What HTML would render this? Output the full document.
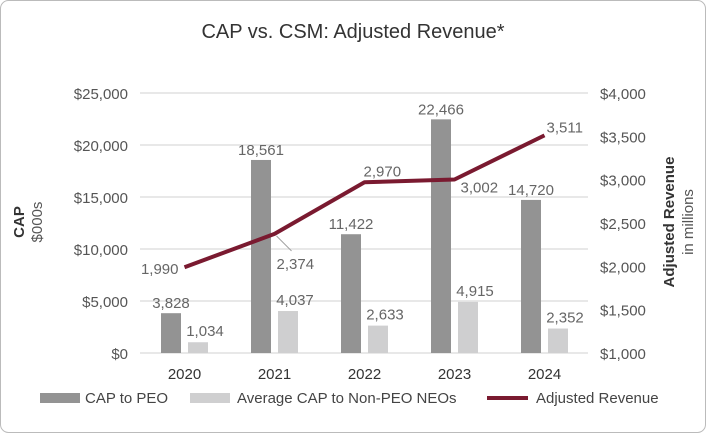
<!DOCTYPE html>
<html><head><meta charset="utf-8"><style>
body{margin:0;background:#fff;font-family:"Liberation Sans",sans-serif}
svg text{font-family:"Liberation Sans",sans-serif}
</style></head><body>
<svg id="chart" width="706" height="433" viewBox="0 0 706 433" xmlns="http://www.w3.org/2000/svg">
<rect x="0.5" y="0.5" width="705" height="432" rx="8" fill="#fff" stroke="#bbb"/>
<text x="353" y="38" text-anchor="middle" font-size="20" fill="#333">CAP vs. CSM: Adjusted Revenue*</text>
<g id="grid"></g><g id="bars"></g><g id="line"></g><g id="labels"></g>
<text transform="translate(24,222) rotate(-90)" text-anchor="middle" font-size="15" fill="#333"><tspan font-weight="bold">CAP</tspan></text>
<text transform="translate(42,222) rotate(-90)" text-anchor="middle" font-size="15" fill="#555">$000s</text>
<text transform="translate(674,222) rotate(-90)" text-anchor="middle" font-size="15" fill="#333"><tspan font-weight="bold">Adjusted Revenue</tspan></text>
<text transform="translate(693,222) rotate(-90)" text-anchor="middle" font-size="15" fill="#555">in millions</text>
<g>
<rect x="40" y="393" width="40" height="10" fill="#939393"/>
<text x="85" y="403" font-size="15" fill="#444">CAP to PEO</text>
<rect x="190" y="393" width="40" height="10" fill="#cfcfd0"/>
<text x="237" y="403" font-size="15" fill="#444">Average CAP to Non-PEO NEOs</text>
<line x1="487" y1="398" x2="528" y2="398" stroke="#7a1a30" stroke-width="4"/>
<text x="536" y="403" font-size="15" fill="#444">Adjusted Revenue</text>
</g>
</svg>
<script>
const categories=["2020","2021","2022","2023","2024"];
const capPEO=[3828,18561,11422,22466,14720];
const capNEO=[1034,4037,2633,4915,2352];
const revenue=[1990,2374,2970,3002,3511];
const leftTicks=[0,5000,10000,15000,20000,25000];
const rightTicks=[1000,1500,2000,2500,3000,3500,4000];
const NS="http://www.w3.org/2000/svg";
const base=353,top_=93;
const yL=v=>base-(v/25000)*(base-top_);
const yR=v=>base-((v-1000)/3000)*(base-top_);
const xC=i=>184.5+i*90;
const fmt=v=>v.toLocaleString("en-US");
function mk(tag,attrs,parent,txt){const e=document.createElementNS(NS,tag);for(const k in attrs)e.setAttribute(k,attrs[k]);if(txt!==undefined)e.textContent=txt;document.getElementById(parent).appendChild(e);return e;}
leftTicks.forEach(t=>{
 const l=mk("line",{x1:140,x2:588,y1:yL(t),y2:yL(t),stroke:"#d9d9d9","stroke-width":1.3},"grid");
 
 
 const tx=mk("text",{x:128,y:yL(t)+6,"text-anchor":"end","font-size":15,fill:"#555"},"grid","$"+fmt(t));
 
 
});
rightTicks.forEach(t=>{
 const tx=mk("text",{x:600,y:yR(t)+6,"font-size":15,fill:"#555"},"grid","$"+fmt(t));
 
 
});
categories.forEach((c,i)=>{
 const x=xC(i);
 const b1=mk("rect",{x:x-23.5,y:yL(capPEO[i]),width:20,height:base-yL(capPEO[i]),fill:"#939393"},"bars");
 
 
 const b2=mk("rect",{x:x+3.5,y:yL(capNEO[i]),width:20,height:base-yL(capNEO[i]),fill:"#cfcfd0"},"bars");
 
 
 const t1=mk("text",{x:x-13.5,y:yL(capPEO[i])-5,"text-anchor":"middle","font-size":15,fill:"#666"},"labels",fmt(capPEO[i]));
 
 
 const t2=mk("text",{x:x+13.5+7,y:yL(capNEO[i])-6,"text-anchor":"middle","font-size":15,fill:"#666"},"labels",fmt(capNEO[i]));
 
 
 const xl=mk("text",{x:x,y:379,"text-anchor":"middle","font-size":15,fill:"#333"},"labels",c);
 
 
});
const pts=revenue.map((v,i)=>xC(i)+","+yR(v)).join(" ");
const pl=mk("polyline",{points:pts,fill:"none",stroke:"#7a1a30","stroke-width":4,"stroke-linejoin":"round"},"line");


const off=[[-6,7,"end"],[2,35,"start"],[-1,-6,"start"],[6,13,"start"],[2,-3,"start"]];
revenue.forEach((v,i)=>{
 const o=off[i];
 const t=mk("text",{x:xC(i)+o[0],y:yR(v)+o[1],"text-anchor":o[2],"font-size":15,fill:"#666"},"labels",fmt(v));
 
 
});
const ld=mk("line",{x1:xC(1)+2,y1:yR(revenue[1])+2,x2:xC(1)+17,y2:yR(revenue[1])+17,stroke:"#999","stroke-width":1},"labels");


</script>
</body></html>
